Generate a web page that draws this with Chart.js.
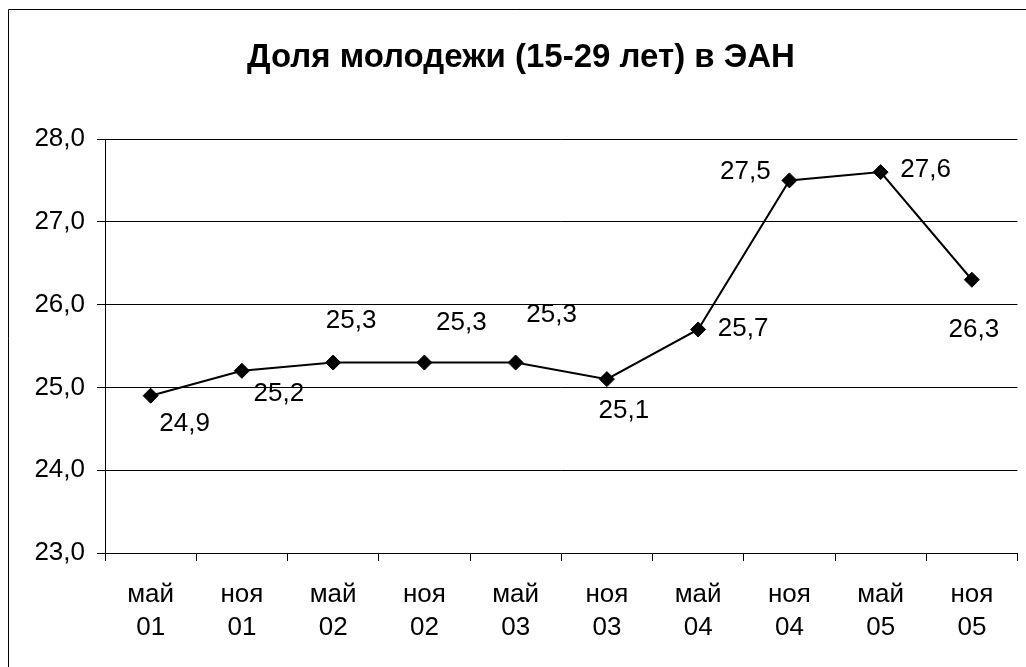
<!DOCTYPE html>
<html>
<head>
<meta charset="utf-8">
<script src="https://cdn.jsdelivr.net/npm/chart.js@4/dist/chart.umd.min.js"></script>
<style>
  body { margin: 0; background: #fff; }
  canvas { display: block; }
</style>
</head>
<body>
<canvas id="chart" width="1026" height="667"></canvas>
<script>
// ---------------- DATA ----------------
const chartTitle = "Доля молодежи (15-29 лет) в ЭАН";
const months = ["май", "ноя", "май", "ноя", "май", "ноя", "май", "ноя", "май", "ноя"];
const years = ["01", "01", "02", "02", "03", "03", "04", "04", "05", "05"];
const youthShare = [24.9, 25.2, 25.3, 25.3, 25.3, 25.1, 25.7, 27.5, 27.6, 26.3];
const yTicks = [23, 24, 25, 26, 27, 28];

// where each value label sits relative to its point (dx, dy)
const labelOffsets = [[34, 28], [37, 23], [18, -42], [37, -40], [36, -48], [17, 32], [45, -1], [-44, -9], [45, -2], [2, 50]];

const FONT = "'Liberation Sans', Arial, sans-serif";
const fmt = v => v.toFixed(1).replace(".", ",");

// ---------------- PLUGINS ----------------
const frame = {
  id: "frame",
  beforeDraw(chart) {
    const c = chart.ctx;
    c.save();
    c.fillStyle = "#fff";
    c.fillRect(0, 0, chart.width, chart.height);
    c.strokeStyle = "#000";
    c.lineWidth = 1;
    c.beginPath();
    c.moveTo(8.5, chart.height);
    c.lineTo(8.5, 9.5);
    c.lineTo(chart.width, 9.5);
    c.stroke();
    c.fillStyle = "#000";
    c.font = "bold 33px " + FONT;
    c.textAlign = "center";
    c.textBaseline = "middle";
    c.fillText(chartTitle, 521, 58);
    c.restore();
  }
};

const valueLabels = {
  id: "valueLabels",
  afterDatasetsDraw(chart) {
    const c = chart.ctx;
    const meta = chart.getDatasetMeta(0);
    c.save();
    c.fillStyle = "#000";
    c.font = "26px " + FONT;
    c.textAlign = "center";
    c.textBaseline = "middle";
    meta.data.forEach((pt, i) => {
      const [dx, dy] = labelOffsets[i];
      c.fillText(fmt(youthShare[i]), pt.x + dx, pt.y + dy);
    });
    c.restore();
  }
};

// ---------------- CHART ----------------
new Chart(document.getElementById("chart"), {
  type: "line",
  data: {
    labels: months.map((m, i) => [m, years[i]]),
    datasets: [{
      data: youthShare,
      borderColor: "#000",
      borderWidth: 2,
      backgroundColor: "#000",
      pointStyle: "rectRot",
      pointRadius: 7.5,
      pointBorderWidth: 1,
      pointBackgroundColor: "#000",
      pointBorderColor: "#000",
      tension: 0
    }]
  },
  options: {
    responsive: false,
    animation: false,
    layout: { padding: { left: 0, right: 8, top: 139, bottom: 0 } },
    plugins: { legend: { display: false }, tooltip: { enabled: false }, title: { display: false } },
    scales: {
      x: {
        offset: true,
        afterFit: s => { s.height = 114; },
        grid: { offset: true, drawOnChartArea: false, drawTicks: true, tickLength: 8, color: "#000" },
        border: { display: true, color: "#000", width: 1 },
        ticks: { color: "#000", padding: 17, font: { family: FONT, size: 26, lineHeight: "33px" }, maxRotation: 0, autoSkip: false }
      },
      y: {
        min: 23,
        max: 28,
        afterFit: s => { s.width = 105; },
        afterBuildTicks: s => { s.ticks = yTicks.map(v => ({ value: v })); },
        grid: { color: "#000", tickLength: 8, drawTicks: true },
        border: { display: true, color: "#000", width: 1 },
        ticks: { color: "#000", padding: 12, font: { family: FONT, size: 26 }, callback: v => fmt(v) }
      }
    }
  },
  plugins: [frame, valueLabels]
});
</script>
</body>
</html>
